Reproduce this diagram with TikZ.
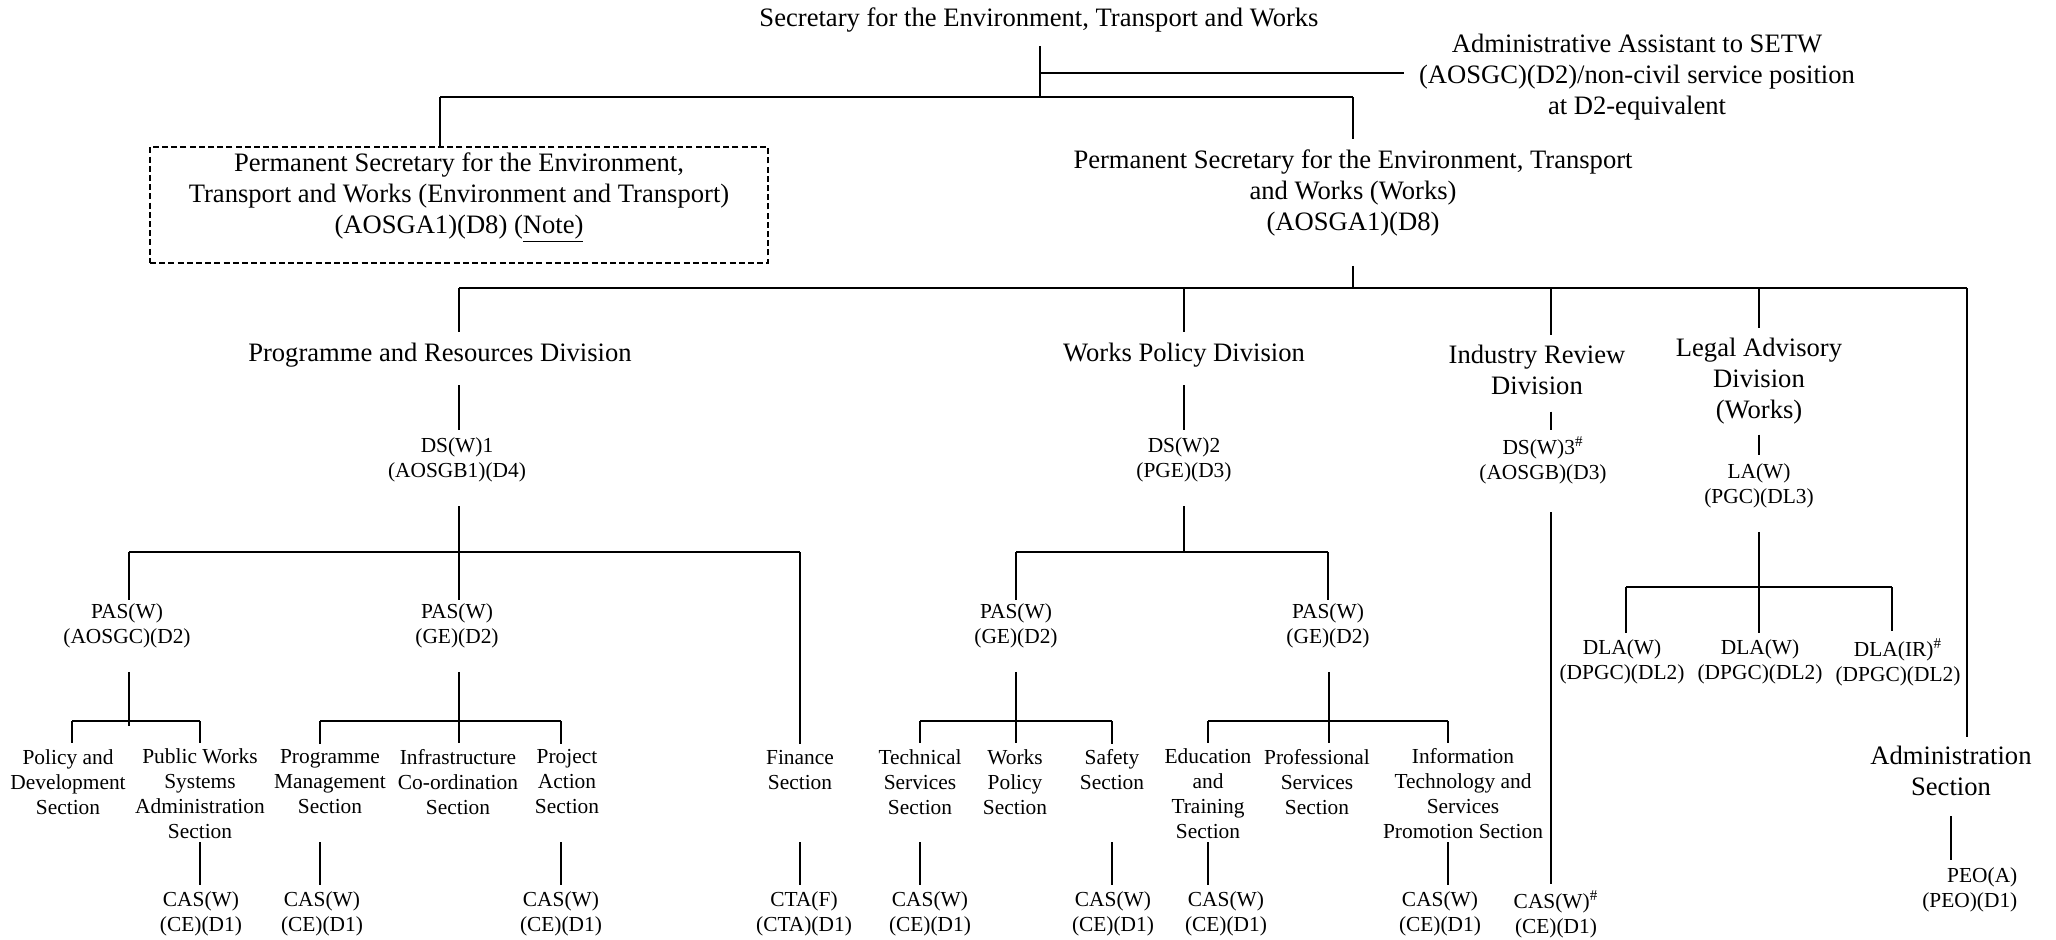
\documentclass[tikz,border=0pt]{standalone}
\usepackage{fontspec}
\setmainfont{Liberation Serif}
\usetikzlibrary{positioning}

\begin{document}
\begin{tikzpicture}[x=0.5pt,y=-0.5pt,line width=0.65pt]
  % Styles
  \tikzstyle{big}=[align=center,inner sep=0pt,font=\fontsize{13.3}{15.3}\selectfont]
  \tikzstyle{small}=[align=center,inner sep=0pt,font=\fontsize{10.7}{12.5}\selectfont]
  \tikzstyle{bus}=[line width=0.85pt]
  \tikzstyle{note box}=[draw,line width=0.8pt,dash pattern=on 3pt off 1.6pt,
    minimum width=309pt,minimum height=58pt,inner sep=0pt]

  \useasboundingbox (0,0) rectangle (2056,939);

  % Secretary and permanent secretaries
  \node[big] (setw) at (1039,20) {Secretary for the Environment, Transport and Works};
  \node[big] (aa) at (1637,77) {Administrative Assistant to SETW\\
    (AOSGC)(D2)/non-civil service position\\at D2-equivalent};
  \node[note box] (psetbox) at (459,205) {};
  \node[big] (pset) at (459,198) {Permanent Secretary for the Environment,\\
    Transport and Works (Environment and Transport)\\(AOSGA1)(D8) (\underline{Note)}};
  \node[big] (psw) at (1353,193) {Permanent Secretary for the Environment, Transport\\
    and Works (Works)\\(AOSGA1)(D8)};

  % Divisions
  \node[big] (divpr) at (440,355) {Programme and Resources Division};
  \node[big] (divwp) at (1184,355) {Works Policy Division};
  \node[big] (divir) at (1537,370) {Industry Review\\Division};
  \node[big] (divla) at (1759,381) {Legal Advisory\\Division\\(Works)};
  \node[big] (divad) at (1951,771) {Administration\\Section};

  % Heads of division
  \node[small] (dsw1) at (457,460) {DS(W)1\\(AOSGB1)(D4)};
  \node[small] (dsw2) at (1184,460) {DS(W)2\\(PGE)(D3)};
  \node[small] (dsw3) at (1543,460) {DS(W)3\textsuperscript{\#}\\(AOSGB)(D3)};
  \node[small] (law) at (1759,486) {LA(W)\\(PGC)(DL3)};

  \node[small] (pas1) at (127,626) {PAS(W)\\(AOSGC)(D2)};
  \node[small] (pas2) at (457,626) {PAS(W)\\(GE)(D2)};
  \node[small] (pas3) at (1016,626) {PAS(W)\\(GE)(D2)};
  \node[small] (pas4) at (1328,626) {PAS(W)\\(GE)(D2)};

  \node[small] (dla1) at (1622,662) {DLA(W)\\(DPGC)(DL2)};
  \node[small] (dla2) at (1760,662) {DLA(W)\\(DPGC)(DL2)};
  \node[small] (dla3) at (1898,662) {DLA(IR)\textsuperscript{\#}\\(DPGC)(DL2)};

  % Sections
  \node[small] (secpd) at (68,782) {Policy and\\Development\\Section};
  \node[small] (secpw) at (200,794) {Public Works\\Systems\\Administration\\Section};
  \node[small] (secpm) at (330,782) {Programme\\Management\\Section};
  \node[small] (secic) at (458,782) {Infrastructure\\Co-ordination\\Section};
  \node[small] (secpa) at (567,782) {Project\\Action\\Section};
  \node[small] (secfin) at (800,770) {Finance\\Section};
  \node[small] (sects) at (920,782) {Technical\\Services\\Section};
  \node[small] (secwp) at (1015,782) {Works\\Policy\\Section};
  \node[small] (secsf) at (1112,770) {Safety\\Section};
  \node[small] (secet) at (1208,794) {Education\\and\\Training\\Section};
  \node[small] (secps) at (1317,782) {Professional\\Services\\Section};
  \node[small] (secit) at (1463,794) {Information\\Technology and\\Services\\Promotion Section};

  % Chief assistants
  \node[small] (cas1) at (201,914) {CAS(W)\\(CE)(D1)};
  \node[small] (cas2) at (322,914) {CAS(W)\\(CE)(D1)};
  \node[small] (cas3) at (561,914) {CAS(W)\\(CE)(D1)};
  \node[small] (cta) at (804,914) {CTA(F)\\(CTA)(D1)};
  \node[small] (cas4) at (930,914) {CAS(W)\\(CE)(D1)};
  \node[small] (cas5) at (1113,914) {CAS(W)\\(CE)(D1)};
  \node[small] (cas6) at (1226,914) {CAS(W)\\(CE)(D1)};
  \node[small] (cas7) at (1440,914) {CAS(W)\\(CE)(D1)};
  \node[small] (cas8) at (1556,914) {CAS(W)\textsuperscript{\#}\\(CE)(D1)};
  \node[small,align=right,anchor=east] (peo) at (2018,890) {PEO(A)\\(PEO)(D1)};

  % Junctions
  \coordinate (aa0) at (1040,73);
  \coordinate (b0l) at (440,97);
  \coordinate (b0m) at (1040,97);
  \coordinate (b0r) at (1353,97);
  \coordinate (b1p) at (1353,288);
  \coordinate (b1l) at (459,288);
  \coordinate (b1wp) at (1184,288);
  \coordinate (b1ir) at (1551,288);
  \coordinate (b1la) at (1759,288);
  \coordinate (b1r) at (1967,288);
  \coordinate (b2l) at (129,552);
  \coordinate (b2m) at (459,552);
  \coordinate (b2r) at (800,552);
  \coordinate (w2l) at (1016,552);
  \coordinate (w2m) at (1184,552);
  \coordinate (w2r) at (1328,552);
  \coordinate (l2l) at (1626,587);
  \coordinate (l2m) at (1759,587);
  \coordinate (l2r) at (1892,587);
  \coordinate (p1l) at (72,721);
  \coordinate (p1m) at (129,721);
  \coordinate (p1r) at (200,721);
  \coordinate (p2l) at (320,721);
  \coordinate (p2m) at (459,721);
  \coordinate (p2r) at (561,721);
  \coordinate (p3l) at (920,721);
  \coordinate (p3m) at (1016,721);
  \coordinate (p3r) at (1112,721);
  \coordinate (p4l) at (1208,721);
  \coordinate (p4m) at (1329,721);
  \coordinate (p4r) at (1448,721);
  \coordinate (casrow) at (0,842);

  % Top connectors
  \draw[shorten <=6.7pt] (b0m |- setw.south) -- (b0m);
  \draw[shorten >=7pt] (aa0) -- (aa0 -| aa.west);
  \draw[bus] (b0l) -- (b0r);
  \draw (b0l) -- (b0l |- psetbox.north);
  \draw[shorten >=5.4pt] (b0r) -- (b0r |- psw.north);
  \draw[shorten <=14.7pt] (b1p |- psw.south) -- (b1p);
  \draw[bus] (b1l) -- (b1r);

  % Divisions
  \draw[shorten >=4.9pt] (b1l) -- (b1l |- divpr.north);
  \draw[shorten >=4.9pt] (b1wp) -- (b1wp |- divwp.north);
  \draw[shorten >=4.9pt] (b1ir) -- (b1ir |- divir.north);
  \draw[shorten >=4.9pt] (b1la) -- (b1la |- divla.north);
  \draw[shorten >=4.4pt] (b1r) -- (b1r |- divad.north);
  \draw[shorten <=8.7pt,shorten >=3.8pt] (b1l |- divpr.south) -- (b1l |- dsw1.north);
  \draw[shorten <=8.7pt,shorten >=3.8pt] (b1wp |- divwp.south) -- (b1wp |- dsw2.north);
  \draw[shorten <=8.1pt,shorten >=3pt] (b1ir |- divir.south) -- (b1ir |- dsw3.north);
  \draw[shorten <=5.2pt,shorten >=4.3pt] (b1la |- divla.south) -- (b1la |- law.north);

  % Programme and Resources Division
  \draw[shorten <=11.6pt] (b2m |- dsw1.south) -- (b2m);
  \draw[bus] (b2l) -- (b2r);
  \draw[shorten >=1.8pt] (b2l) -- (b2l |- pas1.north);
  \draw[shorten >=1.8pt] (b2m) -- (b2m |- pas2.north);
  \draw[shorten >=2.8pt] (b2r) -- (b2r |- secfin.north);
  \draw[shorten <=11.5pt] (p1m |- pas1.south) -- ([yshift=-2.5pt]p1m);
  \draw[bus] (p1l) -- (p1r);
  \draw[shorten >=2.8pt] (p1l) -- (p1l |- secpd.north);
  \draw[shorten >=2.8pt] (p1r) -- (p1r |- secpw.north);
  \draw[shorten <=11.5pt,shorten >=2.8pt] (p2m |- pas2.south) -- (p2m |- secic.north);
  \draw[bus] (p2l) -- (p2r);
  \draw[shorten >=2.8pt] (p2l) -- (p2l |- secpm.north);
  \draw[shorten >=2.8pt] (p2r) -- (p2r |- secpa.north);

  % Works Policy Division
  \draw[shorten <=11.6pt] (w2m |- dsw2.south) -- (w2m);
  \draw[bus] (w2l) -- (w2r);
  \draw[shorten >=1.8pt] (w2l) -- (w2l |- pas3.north);
  \draw[shorten >=1.8pt] (w2r) -- (w2r |- pas4.north);
  \draw[shorten <=11.5pt,shorten >=2.8pt] (p3m |- pas3.south) -- (p3m |- secwp.north);
  \draw[bus] (p3l) -- (p3r);
  \draw[shorten >=2.8pt] (p3l) -- (p3l |- sects.north);
  \draw[shorten >=2.8pt] (p3r) -- (p3r |- secsf.north);
  \draw[shorten <=11.5pt,shorten >=2.8pt] (p4m |- pas4.south) -- (p4m |- secps.north);
  \draw[bus] (p4l) -- (p4r);
  \draw[shorten >=2.8pt] (p4l) -- (p4l |- secet.north);
  \draw[shorten >=2.8pt] (p4r) -- (p4r |- secit.north);

  % Industry Review and Legal Advisory
  \draw[shorten <=14pt,shorten >=3pt] (b1ir |- dsw3.south) -- (b1ir |- cas8.north);
  \draw[shorten <=11.5pt] (l2m |- law.south) -- (l2m);
  \draw[bus] (l2l) -- (l2r);
  \draw[shorten >=3.3pt] (l2l) -- (l2l |- dla1.north);
  \draw[shorten >=3.3pt] (l2m) -- (l2m |- dla2.north);
  \draw[shorten >=3.3pt] (l2r) -- (l2r |- dla3.north);

  % Chief assistants
  \draw[shorten >=3.3pt] (p1r |- casrow) -- (p1r |- cas1.north);
  \draw[shorten >=3.3pt] (p2l |- casrow) -- (p2l |- cas2.north);
  \draw[shorten >=3.3pt] (p2r |- casrow) -- (p2r |- cas3.north);
  \draw[shorten >=3.3pt] (b2r |- casrow) -- (b2r |- cta.north);
  \draw[shorten >=3.3pt] (p3l |- casrow) -- (p3l |- cas4.north);
  \draw[shorten >=3.3pt] (p3r |- casrow) -- (p3r |- cas5.north);
  \draw[shorten >=3.3pt] (p4l |- casrow) -- (p4l |- cas6.north);
  \draw[shorten >=3.3pt] (p4r |- casrow) -- (p4r |- cas7.north);
  \draw[shorten <=10pt,shorten >=3.8pt] (divad.south) -- (divad.south |- peo.north);

\end{tikzpicture}
\end{document}
